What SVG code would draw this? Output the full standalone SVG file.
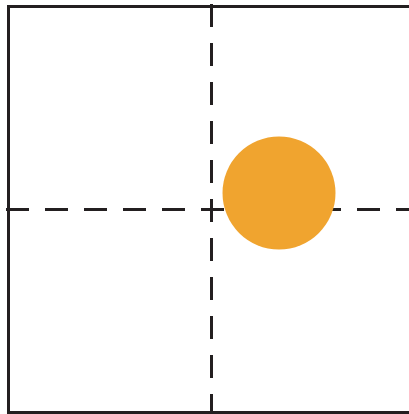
<svg xmlns="http://www.w3.org/2000/svg" width="409" height="414" viewBox="0 0 409 414">
<style>
.axis{stroke:#231f20;stroke-width:3;stroke-dasharray:23 16;fill:none}
.frame{stroke:#231f20;stroke-width:3;fill:none}
</style>
<rect width="409" height="414" fill="#ffffff"/>
<rect class="frame" x="8.5" y="6.5" width="404" height="406"/>
<g id="axes">
<line class="axis" x1="211.5" y1="4" x2="211.5" y2="414"/>
<line class="axis" x1="6" y1="209.5" x2="409" y2="209.5"/>
</g>
<g id="point">
<circle cx="279" cy="193" r="56.5" fill="#f0a42f"/>
</g>
</svg>
